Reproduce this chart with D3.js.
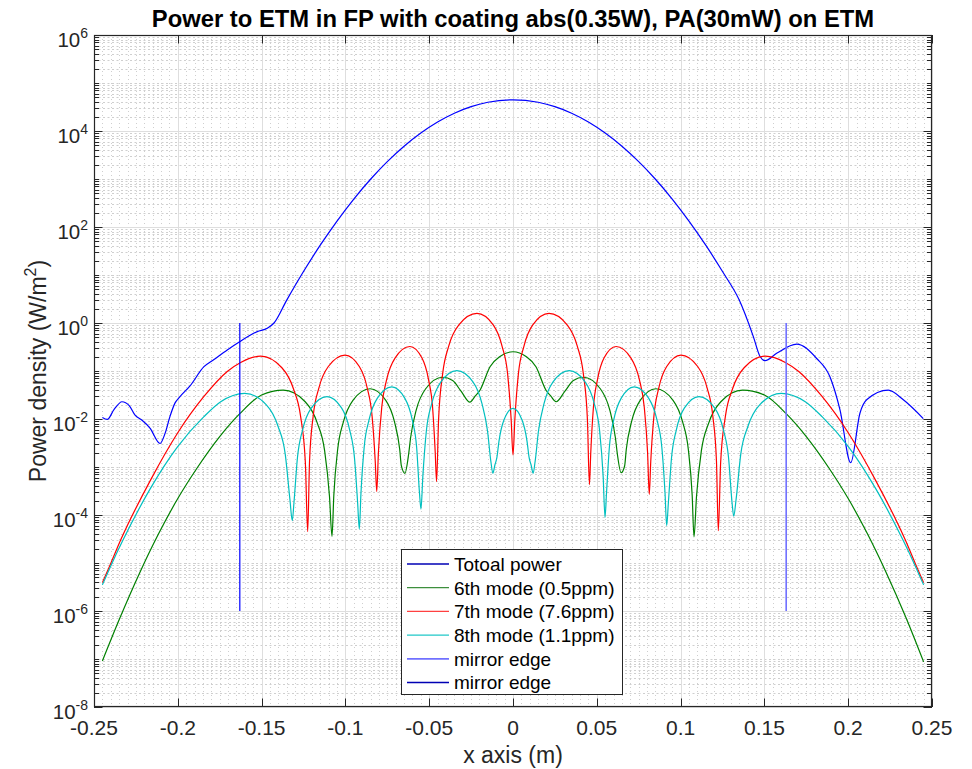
<!DOCTYPE html>
<html><head><meta charset="utf-8">
<script src="https://cdn.jsdelivr.net/npm/d3@7/dist/d3.min.js"></script>
<style>
html,body{margin:0;padding:0;background:#fff;}
svg{display:block;font-family:"Liberation Sans",Arial,Helvetica,sans-serif;}
</style></head><body>
<svg id="chart" width="972" height="769"></svg>
<script>
// ---------- data ----------
const titleText = "Power to ETM in FP with coating abs(0.35W), PA(30mW) on ETM";
const xLabelText = "x axis (m)";
const xTicks = [-0.25,-0.2,-0.15,-0.1,-0.05,0,0.05,0.1,0.15,0.2,0.25];
const xTickLabels = ["-0.25","-0.2","-0.15","-0.1","-0.05","0","0.05","0.1","0.15","0.2","0.25"];
const yTickExponents = [-8,-6,-4,-2,0,2,4,6];
const seriesNames = ["Totoal power","6th mode (0.5ppm)","7th mode (7.6ppm)","8th mode (1.1ppm)","mirror edge","mirror edge"];

const totalX = [-0.245,-0.2421,-0.238,-0.2333,-0.229,-0.2255,-0.2215,-0.2166,-0.2106,-0.2076,-0.2047,-0.2017,-0.1987,-0.1927,-0.1844,-0.1784,-0.1705,-0.1631,-0.1526,-0.1466,-0.1426,
  -0.135,-0.125,-0.115,-0.105,-0.095,-0.085,-0.075,-0.065,-0.055,-0.045,-0.035,-0.025,-0.015,0,
  0.015,0.025,0.035,0.045,0.055,0.065,0.075,0.085,0.095,0.105,0.115,0.125,0.135,
  0.1434,0.1474,0.1504,0.1573,0.1693,0.1812,0.1891,0.1951,0.2015,0.207,0.211,0.2239,0.2329,0.2448];
const totalY = [0.0108,0.0098,0.0158,0.0229,0.019,0.012,0.00955,0.00646,0.00309,0.00501,0.0112,0.0214,0.0292,0.049,0.123,0.174,0.275,0.407,0.661,0.776,1.0,
  3.0,11.8,41.8,133,383,989,2300,4815,9060,15350,23420,32130,39680,44700,
  39680,32130,23420,15350,9060,4815,2300,989,383,133,41.8,11.8,3.0,
  0.52,0.2,0.164,0.234,0.363,0.182,0.0759,0.0155,0.00123,0.0132,0.0251,0.0398,0.0251,0.0102];

const mode6X = [-0.245,-0.2345,-0.2225,-0.2114,-0.2,-0.1887,-0.175,-0.163,-0.150,-0.137,-0.124,-0.1167,-0.1124,-0.1095,-0.108,
  -0.1069,-0.1046,-0.1012,-0.0955,-0.0853,-0.0759,-0.0707,-0.0676,-0.0666,-0.0645,
  -0.0623,-0.0611,-0.0578,-0.0521,-0.042,-0.036,-0.031,-0.0257,-0.0225,-0.0197,-0.0137,-0.0078,0,
  0.0078,0.0137,0.0197,0.0225,0.0257,0.031,0.036,0.042,0.0521,0.0578,0.0611,0.0623,0.0645,
  0.0666,0.0676,0.0707,0.0759,0.0853,0.0955,0.1012,0.1046,0.1069,0.108,
  0.1095,0.1124,0.1167,0.124,0.137,0.150,0.163,0.175,0.1887,0.2,0.2114,0.2225,0.2345,0.245];
const mode6Y = [9.1e-8,7.2e-7,6.5e-6,4.1e-5,2.2e-4,9.3e-4,4.3e-3,0.0129,0.0316,0.0398,0.0229,0.00813,0.00219,2.45e-4,3.6e-5,
  2.6e-4,0.00234,0.0087,0.0245,0.0427,0.0245,0.0087,0.00234,0.00105,7.4e-4,
  0.00182,0.00407,0.0151,0.0427,0.0741,0.0631,0.038,0.0224,0.0302,0.0398,0.123,0.2,0.252,
  0.2,0.123,0.0398,0.0302,0.0229,0.038,0.0631,0.0741,0.0427,0.0151,0.00407,0.00182,7.6e-4,
  0.00105,0.00234,0.0087,0.0245,0.0427,0.0245,0.0087,0.00234,2.6e-4,3.5e-5,
  2.45e-4,0.00219,0.00813,0.0229,0.0398,0.0316,0.0129,4.3e-3,9.3e-4,2.2e-4,4.1e-5,6.5e-6,7.2e-7,8.7e-8];

const mode7X = [-0.245,-0.240,-0.2341,-0.2162,-0.2003,-0.1844,-0.1705,-0.1625,-0.1505,-0.1379,-0.1309,-0.1267,-0.1239,-0.1225,
  -0.1214,-0.1192,-0.1158,-0.1102,-0.1002,-0.0917,-0.0870,-0.0841,-0.0822,-0.0813,
  -0.0803,-0.0783,-0.0754,-0.0704,-0.0615,-0.0543,-0.0504,-0.0480,-0.0464,-0.0456,
  -0.0444,-0.0420,-0.0384,-0.0323,-0.0215,-0.0118,-0.0065,-0.0032,-0.0011,0,
  0.0011,0.0032,0.0065,0.0118,0.0215,0.0323,0.0384,0.0420,0.0444,0.0456,
  0.0464,0.0480,0.0504,0.0543,0.0615,0.0704,0.0754,0.0783,0.0803,0.0813,
  0.0822,0.0841,0.0870,0.0917,0.1002,0.1102,0.1158,0.1192,0.1214,0.1225,
  0.1239,0.1267,0.1309,0.1379,0.1505,0.1625,0.1705,0.1844,0.2003,0.2162,0.2341,0.240,0.245];
const mode7Y = [3.9e-6,9.8e-6,3.0e-5,5.4e-4,5.0e-3,0.0295,0.098,0.151,0.204,0.117,0.0417,0.0112,0.00126,4.5e-5,
  0.00132,0.0117,0.0447,0.124,0.215,0.124,0.0447,0.0117,0.00132,3.1e-4,
  0.0020,0.0178,0.0661,0.186,0.324,0.186,0.0661,0.0178,0.0020,5.0e-4,
  0.0098,0.0863,0.327,0.916,1.585,0.916,0.327,0.0863,0.0098,0.00178,
  0.0098,0.0863,0.327,0.916,1.585,0.916,0.327,0.0863,0.0098,4.3e-4,
  0.0020,0.0178,0.0661,0.186,0.324,0.186,0.0661,0.0178,0.0020,2.7e-4,
  0.00132,0.0117,0.0447,0.124,0.215,0.124,0.0447,0.0117,0.00132,4.7e-5,
  0.00126,0.0112,0.0417,0.117,0.204,0.151,0.098,0.0295,5.0e-3,5.4e-4,3.0e-5,9.8e-6,3.9e-6];

const mode8X = [-0.245,-0.240,-0.2327,-0.2165,-0.2003,-0.1844,-0.1744,-0.160,-0.1473,-0.1402,-0.1359,-0.1331,-0.1317,
  -0.1307,-0.1286,-0.1255,-0.1203,-0.111,-0.1023,-0.0975,-0.0946,-0.0927,-0.0917,
  -0.0907,-0.0888,-0.0859,-0.0810,-0.0723,-0.0645,-0.0601,-0.0575,-0.0558,-0.0549,
  -0.0538,-0.0517,-0.0485,-0.0431,-0.0335,-0.0238,-0.0185,-0.0152,-0.0132,-0.012,
  -0.0108,-0.0096,-0.0084,-0.0054,0,
  0.0054,0.0084,0.0096,0.0108,0.012,
  0.0132,0.0152,0.0185,0.0238,0.0335,0.0431,0.0485,0.0517,0.0538,0.0549,
  0.0558,0.0575,0.0601,0.0645,0.0723,0.0810,0.0859,0.0888,0.0907,0.0917,
  0.0927,0.0946,0.0975,0.1023,0.111,0.1203,0.1255,0.1286,0.1307,0.1317,
  0.1331,0.1359,0.1402,0.1473,0.160,0.1744,0.1844,0.2003,0.2165,0.2327,0.240,0.245];
const mode8Y = [3.5e-6,8.7e-6,3.0e-5,3.5e-4,2.6e-3,0.0112,0.0229,0.0343,0.0200,0.00708,0.00186,2.1e-4,7.6e-5,
  1.8e-4,0.00158,0.00603,0.0170,0.0292,0.0170,0.00603,0.00158,1.8e-4,5.1e-5,
  2.9e-4,0.00257,0.00955,0.0269,0.0468,0.0269,0.00955,0.00257,2.9e-4,1.33e-4,
  6.3e-4,0.00562,0.0209,0.0589,0.102,0.0589,0.0209,0.00562,0.0013,7.4e-4,
  0.0011,0.00158,0.00339,0.00955,0.0166,
  0.00955,0.00339,0.00158,0.0011,7.4e-4,
  0.0013,0.00562,0.0209,0.0589,0.102,0.0589,0.0209,0.00562,6.3e-4,8.9e-5,
  2.9e-4,0.00257,0.00955,0.0269,0.0468,0.0269,0.00955,0.00257,2.9e-4,6.0e-5,
  1.8e-4,0.00158,0.00603,0.0170,0.0292,0.0170,0.00603,0.00158,1.8e-4,9.5e-5,
  2.1e-4,0.00186,0.00708,0.0200,0.0343,0.0229,0.0112,2.6e-3,3.5e-4,3.0e-5,8.7e-6,3.5e-6];

const edgeRightX = [0.163,0.163];
const edgeLeftX = [-0.163,-0.163];
const edgeY = [1e-6,1];

// ---------- layout ----------
const svg = d3.select("#chart");
const L = 94, R = 932, T = 35, B = 707;
const x = d3.scaleLinear().domain([-0.25,0.25]).range([L,R]);
const y = d3.scaleLog().domain([1e-8,1e6]).range([B,T]);
const axisColor = "#262626";

svg.append("rect").attr("x",0).attr("y",0).attr("width",972).attr("height",769).attr("fill","#fff");

const clip = svg.append("defs").append("clipPath").attr("id","clip");
clip.append("rect").attr("x",L).attr("y",T).attr("width",R-L).attr("height",B-T);

// grid
const grid = svg.append("g");
const minorX = d3.range(-50,51).map(i=>i*0.005).filter(v=>Math.abs(Math.round(v*20)-v*20)>1e-6);
grid.selectAll(".mx").data(minorX).enter().append("line")
  .attr("x1",d=>Math.round(x(d))+0.5).attr("x2",d=>Math.round(x(d))+0.5)
  .attr("y1",T).attr("y2",B)
  .attr("stroke","#cfcfcf").attr("stroke-width",1).attr("stroke-dasharray","1,3");
const minorY = [];
for (let k=-8;k<6;k++){ for (let m=1;m<10;m++){ if (m===1 && k%2===0) continue; minorY.push(m*Math.pow(10,k)); } }
grid.selectAll(".my").data(minorY).enter().append("line")
  .attr("x1",L).attr("x2",R)
  .attr("y1",d=>Math.round(y(d))+0.5).attr("y2",d=>Math.round(y(d))+0.5)
  .attr("stroke","#cfcfcf").attr("stroke-width",1).attr("stroke-dasharray","2,2.5");
grid.selectAll(".gx").data(xTicks).enter().append("line")
  .attr("x1",d=>Math.round(x(d))+0.5).attr("x2",d=>Math.round(x(d))+0.5)
  .attr("y1",T).attr("y2",B).attr("stroke","#dedede").attr("stroke-width",1);
grid.selectAll(".gy").data(yTickExponents).enter().append("line")
  .attr("x1",L).attr("x2",R)
  .attr("y1",d=>Math.round(y(Math.pow(10,d)))+0.5).attr("y2",d=>Math.round(y(Math.pow(10,d)))+0.5)
  .attr("stroke","#dedede").attr("stroke-width",1);

// series
const plot = svg.append("g").attr("clip-path","url(#clip)");
const series = [
  {xs: totalX, ys: totalY, color: "#0000ff", w: 1.2},
  {xs: mode6X, ys: mode6Y, color: "#008000", w: 1.2},
  {xs: mode7X, ys: mode7Y, color: "#ff0000", w: 1.2},
  {xs: mode8X, ys: mode8Y, color: "#00bfbf", w: 1.2},
  {xs: edgeRightX, ys: edgeY, color: "#7070ff", w: 1.6},
  {xs: edgeLeftX, ys: edgeY, color: "#0000ff", w: 1.2}
];
series.forEach(s=>{
  plot.append("path").datum(d3.zip(s.xs, s.ys))
    .attr("d", d3.line().x(d=>x(d[0])).y(d=>y(d[1])).curve(s.xs.length>2?d3.curveMonotoneX:d3.curveLinear))
    .attr("fill","none").attr("stroke",s.color).attr("stroke-width",s.w).attr("stroke-linejoin","round");
});

// axes box and ticks
const ax = svg.append("g").attr("stroke",axisColor).attr("fill","none");
ax.append("rect").attr("x",L+0.5).attr("y",T+0.5).attr("width",R-L-1).attr("height",B-T-1).attr("stroke-width",1.2);
xTicks.forEach(v=>{
  const px = Math.round(x(v))+0.5;
  ax.append("line").attr("x1",px).attr("x2",px).attr("y1",B).attr("y2",B-8.5);
  ax.append("line").attr("x1",px).attr("x2",px).attr("y1",T).attr("y2",T+8.5);
});
yTickExponents.forEach(e=>{
  const py = Math.round(y(Math.pow(10,e)))+0.5;
  ax.append("line").attr("x1",L).attr("x2",L+8.5).attr("y1",py).attr("y2",py);
  ax.append("line").attr("x1",R).attr("x2",R-8.5).attr("y1",py).attr("y2",py);
});
minorY.forEach(v=>{
  const py = Math.round(y(v))+0.5;
  ax.append("line").attr("x1",L).attr("x2",L+5).attr("y1",py).attr("y2",py);
  ax.append("line").attr("x1",R).attr("x2",R-5).attr("y1",py).attr("y2",py);
});

// tick labels
const tl = svg.append("g").attr("fill",axisColor);
xTicks.forEach((v,i)=>{
  tl.append("text").attr("x",x(v)).attr("y",735).attr("text-anchor","middle").attr("font-size",21).text(xTickLabels[i]);
});
yTickExponents.forEach(e=>{
  const t = tl.append("text").attr("x",88).attr("y",y(Math.pow(10,e))+12).attr("text-anchor","end").attr("font-size",20.5);
  t.append("tspan").text("10");
  t.append("tspan").attr("dy",-9.5).attr("font-size",14).text(String(e));
});

// title and labels
svg.append("text").attr("x",(L+R)/2).attr("y",27).attr("text-anchor","middle")
  .attr("font-size",23.8).attr("font-weight","bold").attr("fill","#000").text(titleText);
svg.append("text").attr("x",(L+R)/2).attr("y",763).attr("text-anchor","middle")
  .attr("font-size",23).attr("fill",axisColor).text(xLabelText);
const yl = svg.append("text").attr("transform",`translate(46,${(T+B)/2}) rotate(-90)`)
  .attr("text-anchor","middle").attr("font-size",23).attr("fill",axisColor);
yl.append("tspan").text("Power density (W/m");
yl.append("tspan").attr("dy",-10).attr("font-size",16).text("2");
yl.append("tspan").attr("dy",10).text(")");

// legend
const lg = svg.append("g");
lg.append("rect").attr("x",401.5).attr("y",549.5).attr("width",221).attr("height",145)
  .attr("fill","#fff").attr("stroke",axisColor).attr("stroke-width",1);
const legendColors = ["#0000b4","#3d8f3d","#ff4040","#20c8c8","#7070ff","#0000b4"];
series.forEach((s,i)=>{
  const cy = 564 + i*23.7;
  lg.append("line").attr("x1",407).attr("x2",449).attr("y1",cy).attr("y2",cy)
    .attr("stroke",legendColors[i]).attr("stroke-width",i===4?1.8:1.3);
  lg.append("text").attr("x",454).attr("y",cy+6.8).attr("font-size",19).attr("fill","#000").text(seriesNames[i]);
});
</script>
</body></html>
